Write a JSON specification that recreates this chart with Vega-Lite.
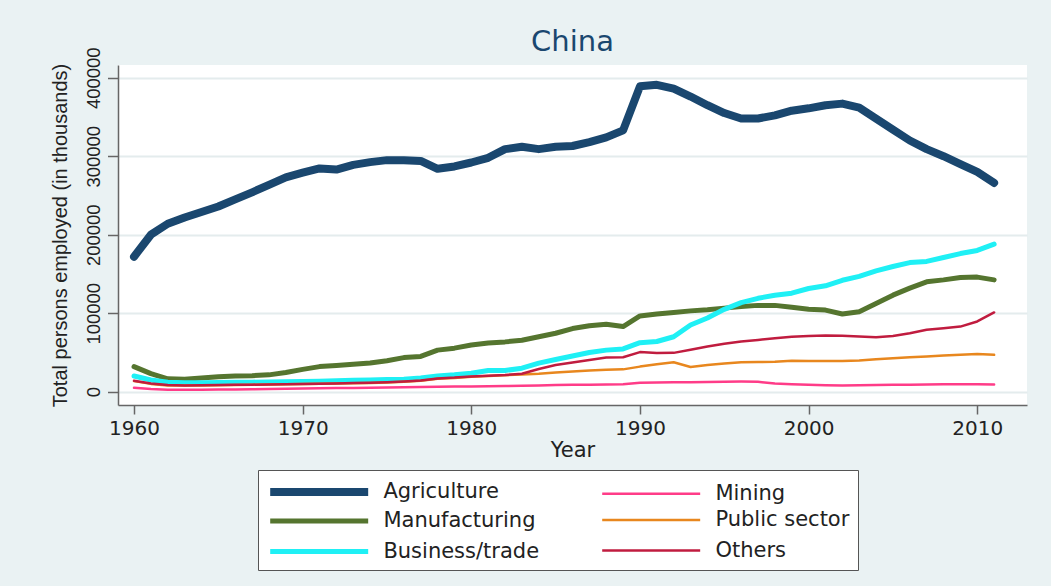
{
 "$schema": "https://vega.github.io/schema/vega-lite/v6.json",
 "width": 909,
 "height": 340,
 "autosize": {"type": "none"},
 "padding": {"left": 118, "top": 65, "right": 24, "bottom": 181},
 "background": "#eaf2f3",
 "title": {"text": "China", "frame": "group", "fontSize": 29, "font": "DejaVu Sans", "fontWeight": "normal", "color": "#1a476f", "baseline": "alphabetic", "offset": 11, "dy": 44, "anchor": "middle"},
 "datasets": {
  "emp": [
{"sector":"Agriculture","year":1960,"value":172000},{"sector":"Agriculture","year":1961,"value":200000},{"sector":"Agriculture","year":1962,"value":214000},{"sector":"Agriculture","year":1963,"value":222000},{"sector":"Agriculture","year":1964,"value":229000},{"sector":"Agriculture","year":1965,"value":236000},{"sector":"Agriculture","year":1966,"value":245000},{"sector":"Agriculture","year":1967,"value":254000},{"sector":"Agriculture","year":1968,"value":263500},{"sector":"Agriculture","year":1969,"value":273000},{"sector":"Agriculture","year":1970,"value":279000},{"sector":"Agriculture","year":1971,"value":284500},{"sector":"Agriculture","year":1972,"value":283000},{"sector":"Agriculture","year":1973,"value":289000},{"sector":"Agriculture","year":1974,"value":292500},{"sector":"Agriculture","year":1975,"value":295000},{"sector":"Agriculture","year":1976,"value":295000},{"sector":"Agriculture","year":1977,"value":294000},{"sector":"Agriculture","year":1978,"value":284000},{"sector":"Agriculture","year":1979,"value":287000},{"sector":"Agriculture","year":1980,"value":292000},{"sector":"Agriculture","year":1981,"value":298000},{"sector":"Agriculture","year":1982,"value":309000},{"sector":"Agriculture","year":1983,"value":312000},{"sector":"Agriculture","year":1984,"value":309000},{"sector":"Agriculture","year":1985,"value":312000},{"sector":"Agriculture","year":1986,"value":313000},{"sector":"Agriculture","year":1987,"value":318000},{"sector":"Agriculture","year":1988,"value":324000},{"sector":"Agriculture","year":1989,"value":333000},{"sector":"Agriculture","year":1990,"value":389000},{"sector":"Agriculture","year":1991,"value":391000},{"sector":"Agriculture","year":1992,"value":386000},{"sector":"Agriculture","year":1993,"value":376000},{"sector":"Agriculture","year":1994,"value":365000},{"sector":"Agriculture","year":1995,"value":355000},{"sector":"Agriculture","year":1996,"value":348000},{"sector":"Agriculture","year":1997,"value":348000},{"sector":"Agriculture","year":1998,"value":352000},{"sector":"Agriculture","year":1999,"value":358000},{"sector":"Agriculture","year":2000,"value":361000},{"sector":"Agriculture","year":2001,"value":365000},{"sector":"Agriculture","year":2002,"value":367000},{"sector":"Agriculture","year":2003,"value":362000},{"sector":"Agriculture","year":2004,"value":348000},{"sector":"Agriculture","year":2005,"value":334000},{"sector":"Agriculture","year":2006,"value":320000},{"sector":"Agriculture","year":2007,"value":309000},{"sector":"Agriculture","year":2008,"value":300000},{"sector":"Agriculture","year":2009,"value":290000},{"sector":"Agriculture","year":2010,"value":280000},{"sector":"Agriculture","year":2011,"value":266000},
{"sector":"Manufacturing","year":1960,"value":32000},{"sector":"Manufacturing","year":1961,"value":23000},{"sector":"Manufacturing","year":1962,"value":16500},{"sector":"Manufacturing","year":1963,"value":16000},{"sector":"Manufacturing","year":1964,"value":17500},{"sector":"Manufacturing","year":1965,"value":19000},{"sector":"Manufacturing","year":1966,"value":20000},{"sector":"Manufacturing","year":1967,"value":20500},{"sector":"Manufacturing","year":1968,"value":21500},{"sector":"Manufacturing","year":1969,"value":24500},{"sector":"Manufacturing","year":1970,"value":28500},{"sector":"Manufacturing","year":1971,"value":32000},{"sector":"Manufacturing","year":1972,"value":33500},{"sector":"Manufacturing","year":1973,"value":35000},{"sector":"Manufacturing","year":1974,"value":36500},{"sector":"Manufacturing","year":1975,"value":39500},{"sector":"Manufacturing","year":1976,"value":43500},{"sector":"Manufacturing","year":1977,"value":45000},{"sector":"Manufacturing","year":1978,"value":53000},{"sector":"Manufacturing","year":1979,"value":55500},{"sector":"Manufacturing","year":1980,"value":59500},{"sector":"Manufacturing","year":1981,"value":62000},{"sector":"Manufacturing","year":1982,"value":63500},{"sector":"Manufacturing","year":1983,"value":65500},{"sector":"Manufacturing","year":1984,"value":70000},{"sector":"Manufacturing","year":1985,"value":74500},{"sector":"Manufacturing","year":1986,"value":80500},{"sector":"Manufacturing","year":1987,"value":84000},{"sector":"Manufacturing","year":1988,"value":86000},{"sector":"Manufacturing","year":1989,"value":83000},{"sector":"Manufacturing","year":1990,"value":96500},{"sector":"Manufacturing","year":1991,"value":99000},{"sector":"Manufacturing","year":1992,"value":101000},{"sector":"Manufacturing","year":1993,"value":103000},{"sector":"Manufacturing","year":1994,"value":104500},{"sector":"Manufacturing","year":1995,"value":106500},{"sector":"Manufacturing","year":1996,"value":108500},{"sector":"Manufacturing","year":1997,"value":110000},{"sector":"Manufacturing","year":1998,"value":110000},{"sector":"Manufacturing","year":1999,"value":107500},{"sector":"Manufacturing","year":2000,"value":105000},{"sector":"Manufacturing","year":2001,"value":104000},{"sector":"Manufacturing","year":2002,"value":99000},{"sector":"Manufacturing","year":2003,"value":102000},{"sector":"Manufacturing","year":2004,"value":112500},{"sector":"Manufacturing","year":2005,"value":123000},{"sector":"Manufacturing","year":2006,"value":132000},{"sector":"Manufacturing","year":2007,"value":140000},{"sector":"Manufacturing","year":2008,"value":142500},{"sector":"Manufacturing","year":2009,"value":145500},{"sector":"Manufacturing","year":2010,"value":146000},{"sector":"Manufacturing","year":2011,"value":142500},
{"sector":"Business/trade","year":1960,"value":20000},{"sector":"Business/trade","year":1961,"value":15000},{"sector":"Business/trade","year":1962,"value":12000},{"sector":"Business/trade","year":1963,"value":11500},{"sector":"Business/trade","year":1964,"value":11500},{"sector":"Business/trade","year":1965,"value":11800},{"sector":"Business/trade","year":1966,"value":12000},{"sector":"Business/trade","year":1967,"value":12200},{"sector":"Business/trade","year":1968,"value":12400},{"sector":"Business/trade","year":1969,"value":12700},{"sector":"Business/trade","year":1970,"value":13000},{"sector":"Business/trade","year":1971,"value":13500},{"sector":"Business/trade","year":1972,"value":14000},{"sector":"Business/trade","year":1973,"value":14500},{"sector":"Business/trade","year":1974,"value":15000},{"sector":"Business/trade","year":1975,"value":15500},{"sector":"Business/trade","year":1976,"value":16000},{"sector":"Business/trade","year":1977,"value":17400},{"sector":"Business/trade","year":1978,"value":20000},{"sector":"Business/trade","year":1979,"value":21500},{"sector":"Business/trade","year":1980,"value":23500},{"sector":"Business/trade","year":1981,"value":27000},{"sector":"Business/trade","year":1982,"value":27000},{"sector":"Business/trade","year":1983,"value":30000},{"sector":"Business/trade","year":1984,"value":36500},{"sector":"Business/trade","year":1985,"value":41000},{"sector":"Business/trade","year":1986,"value":45500},{"sector":"Business/trade","year":1987,"value":50000},{"sector":"Business/trade","year":1988,"value":53000},{"sector":"Business/trade","year":1989,"value":54500},{"sector":"Business/trade","year":1990,"value":62500},{"sector":"Business/trade","year":1991,"value":64000},{"sector":"Business/trade","year":1992,"value":70000},{"sector":"Business/trade","year":1993,"value":85000},{"sector":"Business/trade","year":1994,"value":94000},{"sector":"Business/trade","year":1995,"value":105000},{"sector":"Business/trade","year":1996,"value":113500},{"sector":"Business/trade","year":1997,"value":119000},{"sector":"Business/trade","year":1998,"value":123000},{"sector":"Business/trade","year":1999,"value":125500},{"sector":"Business/trade","year":2000,"value":131500},{"sector":"Business/trade","year":2001,"value":135000},{"sector":"Business/trade","year":2002,"value":142000},{"sector":"Business/trade","year":2003,"value":147000},{"sector":"Business/trade","year":2004,"value":154000},{"sector":"Business/trade","year":2005,"value":159500},{"sector":"Business/trade","year":2006,"value":164500},{"sector":"Business/trade","year":2007,"value":166000},{"sector":"Business/trade","year":2008,"value":171000},{"sector":"Business/trade","year":2009,"value":176000},{"sector":"Business/trade","year":2010,"value":180000},{"sector":"Business/trade","year":2011,"value":188000},
{"sector":"Mining","year":1960,"value":5000},{"sector":"Mining","year":1961,"value":3500},{"sector":"Mining","year":1962,"value":2500},{"sector":"Mining","year":1963,"value":2500},{"sector":"Mining","year":1964,"value":2600},{"sector":"Mining","year":1965,"value":2800},{"sector":"Mining","year":1966,"value":3000},{"sector":"Mining","year":1967,"value":3200},{"sector":"Mining","year":1968,"value":3400},{"sector":"Mining","year":1969,"value":3700},{"sector":"Mining","year":1970,"value":4000},{"sector":"Mining","year":1971,"value":4300},{"sector":"Mining","year":1972,"value":4600},{"sector":"Mining","year":1973,"value":4900},{"sector":"Mining","year":1974,"value":5200},{"sector":"Mining","year":1975,"value":5500},{"sector":"Mining","year":1976,"value":5800},{"sector":"Mining","year":1977,"value":6000},{"sector":"Mining","year":1978,"value":6500},{"sector":"Mining","year":1979,"value":6700},{"sector":"Mining","year":1980,"value":6800},{"sector":"Mining","year":1981,"value":7000},{"sector":"Mining","year":1982,"value":7300},{"sector":"Mining","year":1983,"value":7500},{"sector":"Mining","year":1984,"value":8000},{"sector":"Mining","year":1985,"value":8500},{"sector":"Mining","year":1986,"value":8800},{"sector":"Mining","year":1987,"value":9000},{"sector":"Mining","year":1988,"value":9300},{"sector":"Mining","year":1989,"value":9500},{"sector":"Mining","year":1990,"value":11500},{"sector":"Mining","year":1991,"value":11700},{"sector":"Mining","year":1992,"value":12000},{"sector":"Mining","year":1993,"value":12200},{"sector":"Mining","year":1994,"value":12500},{"sector":"Mining","year":1995,"value":12800},{"sector":"Mining","year":1996,"value":12900},{"sector":"Mining","year":1997,"value":12600},{"sector":"Mining","year":1998,"value":10500},{"sector":"Mining","year":1999,"value":9500},{"sector":"Mining","year":2000,"value":8900},{"sector":"Mining","year":2001,"value":8400},{"sector":"Mining","year":2002,"value":8000},{"sector":"Mining","year":2003,"value":8300},{"sector":"Mining","year":2004,"value":8600},{"sector":"Mining","year":2005,"value":8800},{"sector":"Mining","year":2006,"value":9000},{"sector":"Mining","year":2007,"value":9300},{"sector":"Mining","year":2008,"value":9400},{"sector":"Mining","year":2009,"value":9500},{"sector":"Mining","year":2010,"value":9500},{"sector":"Mining","year":2011,"value":9300},
{"sector":"Public sector","year":1960,"value":13500},{"sector":"Public sector","year":1961,"value":10000},{"sector":"Public sector","year":1962,"value":8000},{"sector":"Public sector","year":1963,"value":7800},{"sector":"Public sector","year":1964,"value":8000},{"sector":"Public sector","year":1965,"value":8300},{"sector":"Public sector","year":1966,"value":8600},{"sector":"Public sector","year":1967,"value":8800},{"sector":"Public sector","year":1968,"value":9100},{"sector":"Public sector","year":1969,"value":9400},{"sector":"Public sector","year":1970,"value":9800},{"sector":"Public sector","year":1971,"value":10100},{"sector":"Public sector","year":1972,"value":10400},{"sector":"Public sector","year":1973,"value":10800},{"sector":"Public sector","year":1974,"value":11200},{"sector":"Public sector","year":1975,"value":11800},{"sector":"Public sector","year":1976,"value":12800},{"sector":"Public sector","year":1977,"value":14000},{"sector":"Public sector","year":1978,"value":16500},{"sector":"Public sector","year":1979,"value":17500},{"sector":"Public sector","year":1980,"value":19000},{"sector":"Public sector","year":1981,"value":20000},{"sector":"Public sector","year":1982,"value":21000},{"sector":"Public sector","year":1983,"value":22000},{"sector":"Public sector","year":1984,"value":23000},{"sector":"Public sector","year":1985,"value":24500},{"sector":"Public sector","year":1986,"value":25800},{"sector":"Public sector","year":1987,"value":27000},{"sector":"Public sector","year":1988,"value":28000},{"sector":"Public sector","year":1989,"value":28500},{"sector":"Public sector","year":1990,"value":32000},{"sector":"Public sector","year":1991,"value":35000},{"sector":"Public sector","year":1992,"value":37500},{"sector":"Public sector","year":1993,"value":31500},{"sector":"Public sector","year":1994,"value":34000},{"sector":"Public sector","year":1995,"value":36000},{"sector":"Public sector","year":1996,"value":37500},{"sector":"Public sector","year":1997,"value":37800},{"sector":"Public sector","year":1998,"value":38300},{"sector":"Public sector","year":1999,"value":39500},{"sector":"Public sector","year":2000,"value":39300},{"sector":"Public sector","year":2001,"value":39300},{"sector":"Public sector","year":2002,"value":39000},{"sector":"Public sector","year":2003,"value":39800},{"sector":"Public sector","year":2004,"value":41500},{"sector":"Public sector","year":2005,"value":42800},{"sector":"Public sector","year":2006,"value":44000},{"sector":"Public sector","year":2007,"value":45000},{"sector":"Public sector","year":2008,"value":46000},{"sector":"Public sector","year":2009,"value":47000},{"sector":"Public sector","year":2010,"value":48000},{"sector":"Public sector","year":2011,"value":47000},
{"sector":"Others","year":1960,"value":14000},{"sector":"Others","year":1961,"value":10500},{"sector":"Others","year":1962,"value":8500},{"sector":"Others","year":1963,"value":8000},{"sector":"Others","year":1964,"value":8200},{"sector":"Others","year":1965,"value":8500},{"sector":"Others","year":1966,"value":8800},{"sector":"Others","year":1967,"value":9000},{"sector":"Others","year":1968,"value":9300},{"sector":"Others","year":1969,"value":9600},{"sector":"Others","year":1970,"value":10000},{"sector":"Others","year":1971,"value":10300},{"sector":"Others","year":1972,"value":10600},{"sector":"Others","year":1973,"value":11000},{"sector":"Others","year":1974,"value":11400},{"sector":"Others","year":1975,"value":12000},{"sector":"Others","year":1976,"value":13000},{"sector":"Others","year":1977,"value":14200},{"sector":"Others","year":1978,"value":17000},{"sector":"Others","year":1979,"value":18000},{"sector":"Others","year":1980,"value":19500},{"sector":"Others","year":1981,"value":20300},{"sector":"Others","year":1982,"value":21200},{"sector":"Others","year":1983,"value":23000},{"sector":"Others","year":1984,"value":29000},{"sector":"Others","year":1985,"value":34000},{"sector":"Others","year":1986,"value":37300},{"sector":"Others","year":1987,"value":40500},{"sector":"Others","year":1988,"value":43500},{"sector":"Others","year":1989,"value":44000},{"sector":"Others","year":1990,"value":50500},{"sector":"Others","year":1991,"value":49200},{"sector":"Others","year":1992,"value":49500},{"sector":"Others","year":1993,"value":53500},{"sector":"Others","year":1994,"value":57500},{"sector":"Others","year":1995,"value":61000},{"sector":"Others","year":1996,"value":64000},{"sector":"Others","year":1997,"value":66000},{"sector":"Others","year":1998,"value":68000},{"sector":"Others","year":1999,"value":70000},{"sector":"Others","year":2000,"value":71000},{"sector":"Others","year":2001,"value":71600},{"sector":"Others","year":2002,"value":71200},{"sector":"Others","year":2003,"value":70500},{"sector":"Others","year":2004,"value":69500},{"sector":"Others","year":2005,"value":71000},{"sector":"Others","year":2006,"value":74500},{"sector":"Others","year":2007,"value":79000},{"sector":"Others","year":2008,"value":81000},{"sector":"Others","year":2009,"value":83000},{"sector":"Others","year":2010,"value":89500},{"sector":"Others","year":2011,"value":101000}
  ]
 },
 "data": {"name": "emp"},
 "mark": {"type": "line", "strokeCap": "round", "strokeJoin": "round"},
 "encoding": {
  "x": {
   "field": "year", "type": "quantitative",
   "scale": {"domain": [1959.05, 2012.95], "nice": false, "zero": false},
   "axis": {"values": [1960, 1970, 1980, 1990, 2000, 2010], "format": "d", "title": "Year", "grid": false,
     "tickSize": 9, "labelPadding": 4, "labelFont": "DejaVu Sans", "labelFontSize": 20,
     "titleFont": "DejaVu Sans", "titleFontSize": 21, "titleBaseline": "alphabetic", "titleY": 51}
  },
  "y": {
   "field": "value", "type": "quantitative",
   "scale": {"domain": [-16900, 416200], "nice": false, "zero": false},
   "axis": {"values": [0, 100000, 200000, 300000, 400000], "format": "d", "title": "Total persons employed (in thousands)",
     "tickSize": 10.5, "labelPadding": 4.5, "labelAngle": 270, "labelAlign": "center", "labelBaseline": "bottom",
     "labelFont": "Liberation Sans", "labelFontSize": 18.5,
     "titleFont": "Liberation Sans", "titleFontSize": 20, "titleAngle": 270, "titleAlign": "center", "titleBaseline": "bottom",
     "titleX": -47.5, "titleY": 170,
     "grid": true, "gridColor": "#e4eced", "gridWidth": 2}
  },
  "color": {
   "field": "sector", "type": "nominal",
   "scale": {"domain": ["Agriculture", "Manufacturing", "Business/trade", "Mining", "Public sector", "Others"],
             "range": ["#1a476f", "#55752f", "#1ff0f5", "#ff3c88", "#e8871e", "#c01c3f"]},
   "legend": {"title": null}
  },
  "strokeWidth": {
   "field": "sector", "type": "nominal",
   "scale": {"type": "ordinal", "domain": ["Agriculture", "Manufacturing", "Business/trade", "Mining", "Public sector", "Others"],
             "range": [8, 5, 5, 2.5, 2.5, 2.5]},
   "legend": {"title": null}
  }
 },
 "config": {
  "view": {"fill": "white", "stroke": null},
  "axis": {"domainColor": "#666666", "domainWidth": 1.5, "tickColor": "#666666", "tickWidth": 1.5,
           "labelColor": "#222222", "titleColor": "#222222", "titleFontWeight": "normal"},
  "legend": {"orient": "none", "legendX": 140, "legendY": 405, "direction": "vertical", "columns": 2,
             "gridAlign": "all", "columnPadding": 57, "rowPadding": 0.5, "padding": 8,
             "strokeColor": "#555555", "fillColor": "white", "symbolType": "M-1,0H9", "symbolSize": 384,
             "labelOffset": 89.4, "labelFont": "DejaVu Sans", "labelFontSize": 21, "labelColor": "#222222", "labelLimit": 400}
 }
}
